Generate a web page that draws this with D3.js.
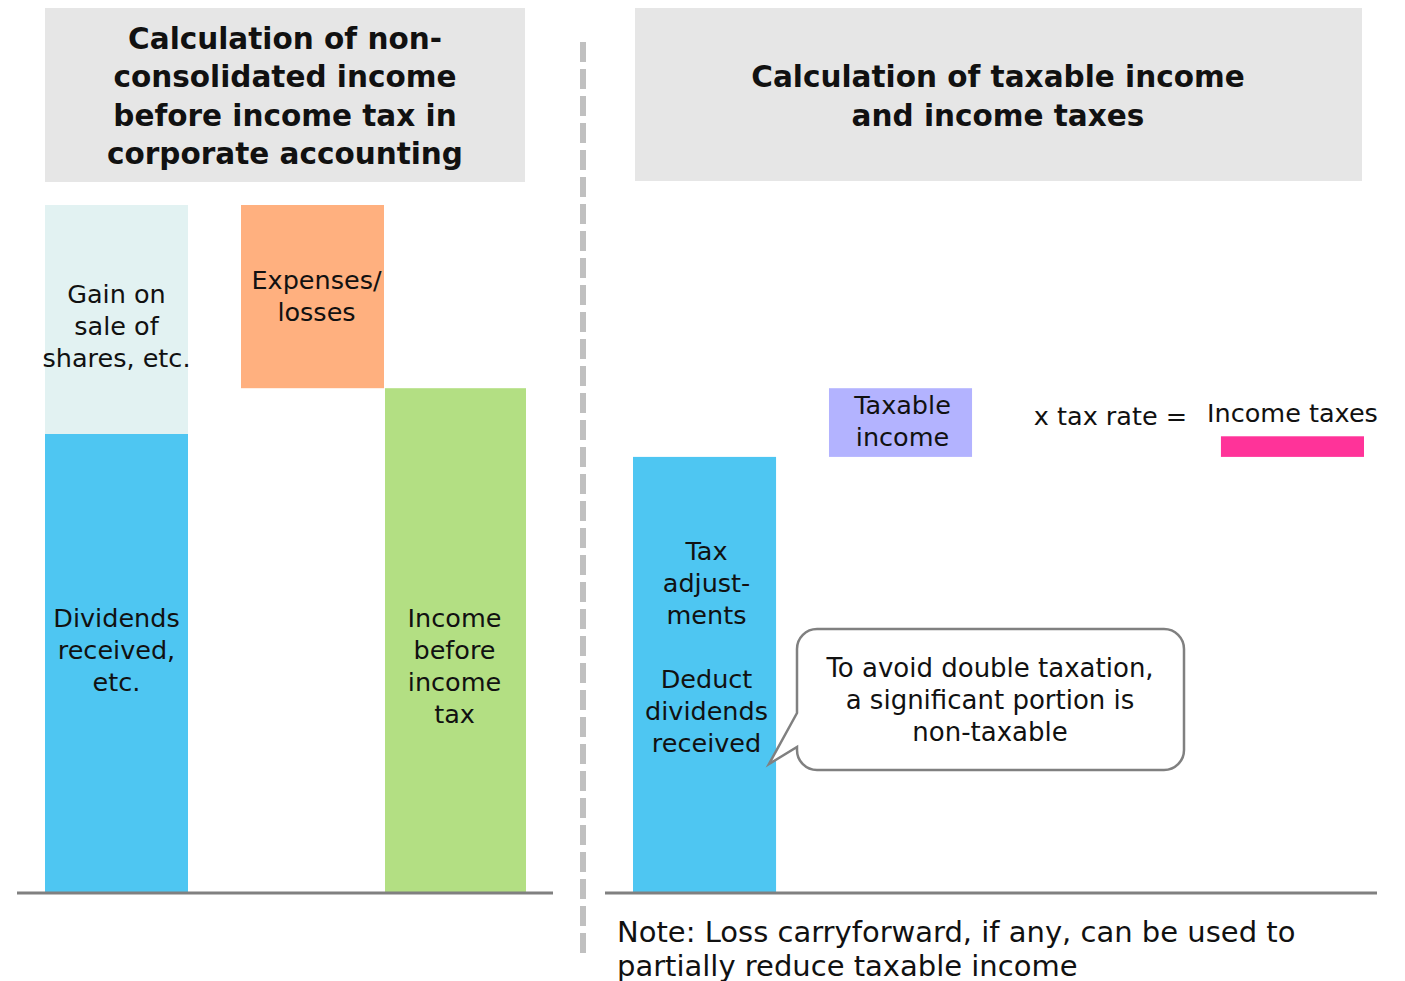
<!DOCTYPE html>
<html>
<head>
<meta charset="utf-8">
<script src="https://cdn.jsdelivr.net/npm/d3@7"></script>
<style>
  html, body { margin: 0; padding: 0; background: #fff; }
  svg text { font-family: "DejaVu Sans", Verdana, sans-serif; fill: #111; }
</style>
</head>
<body>
<svg id="chart" width="1405" height="981"></svg>
<script>
// left panel: corporate accounting (values in arbitrary units)
const leftCats = ["Dividends", "Gain", "Expenses", "Income"];
const leftStart = [0, 100, 110, 0];
const leftEnd = [100, 150, 150, 110];
const leftColors = ["#4ec6f2", "#e2f2f2", "#ffb07f", "#b3df83"];
const leftLabels = [
  ["Dividends", "received,", "etc."],
  ["Gain on", "sale of", "shares, etc."],
  ["Expenses/", "losses"],
  ["Income", "before", "income", "tax"]
];

// right panel: tax accounting
const rightCats = ["Adjustments", "Taxable", "Rate", "Taxes"];
const rightStart = [0, 95, null, 95];
const rightEnd = [95, 110, null, 99.5];
const rightColors = ["#4ec6f2", "#b3b3ff", null, "#ff3399"];
const rightLabels = [
  ["Tax", "adjust-", "ments", "", "Deduct", "dividends", "received"],
  ["Taxable", "income"],
  [],
  []
];

const leftTitle = ["Calculation of non-", "consolidated income", "before income tax in", "corporate accounting"];
const rightTitle = ["Calculation of taxable income", "and income taxes"];
const calloutText = ["To avoid double taxation,", "a significant portion is", "non-taxable"];
const noteText = ["Note: Loss carryforward, if any, can be used to", "partially reduce taxable income"];

const svg = d3.select("#chart");
const baseY = 892;
const lineH = 32;

const y = d3.scaleLinear().domain([0, 100]).range([baseY, baseY - 458]);

const xLeft = d3.scaleOrdinal(leftCats, [45, 45, 241, 385]);
const xRight = d3.scaleBand(rightCats, [633, 1364]).paddingInner(0.27).paddingOuter(0).align(0);
const bw = xRight.bandwidth();

// header boxes
svg.append("rect").attr("x", 45).attr("y", 8).attr("width", 480).attr("height", 174).attr("fill", "#e6e6e6");
svg.append("rect").attr("x", 635).attr("y", 8).attr("width", 727).attr("height", 173).attr("fill", "#e6e6e6");

function lines(g, arr, cx, cy, size, weight, lh) {
  const t = g.append("text")
    .attr("text-anchor", "middle")
    .attr("font-size", size)
    .attr("font-weight", weight || "normal");
  const top = cy - (arr.length - 1) * lh / 2;
  arr.forEach((s, i) => {
    t.append("tspan").attr("x", cx).attr("y", top + i * lh).attr("dy", "0.35em").text(s);
  });
  return t;
}

lines(svg, leftTitle, 285, 96, 29.5, "bold", 38.5);
lines(svg, rightTitle, 998, 96, 29.5, "bold", 38.5);

// divider
svg.append("line")
  .attr("x1", 583).attr("x2", 583).attr("y1", 42).attr("y2", 955)
  .attr("stroke", "#c0c0c0").attr("stroke-width", 6)
  .attr("stroke-dasharray", "20,7");

// left bars
const leftData = leftCats.map((c, i) => ({ c, s: leftStart[i], e: leftEnd[i], col: leftColors[i], lab: leftLabels[i] }));
svg.append("g").selectAll("rect").data(leftData).join("rect")
  .attr("x", d => xLeft(d.c))
  .attr("y", d => y(d.e))
  .attr("width", d => d.c === "Income" ? 141 : 143)
  .attr("height", d => y(d.s) - y(d.e))
  .attr("fill", d => d.col);

const leftLabelShift = { Dividends: -13, Gain: 7, Expenses: -1, Income: 26 };
const leftLabelDx = { Dividends: 0, Gain: 0, Expenses: 4, Income: -2 };
leftData.forEach(d => {
  const cx = xLeft(d.c) + 71.5 + leftLabelDx[d.c];
  const cy = (y(d.s) + y(d.e)) / 2 + leftLabelShift[d.c];
  lines(svg, d.lab, cx, cy, 25.5, "normal", lineH);
});

// right bars
const rightData = rightCats.map((c, i) => ({ c, s: rightStart[i], e: rightEnd[i], col: rightColors[i], lab: rightLabels[i] }))
  .filter(d => d.col);
svg.append("g").selectAll("rect").data(rightData).join("rect")
  .attr("x", d => xRight(d.c))
  .attr("y", d => y(d.e))
  .attr("width", bw)
  .attr("height", d => y(d.s) - y(d.e))
  .attr("fill", d => d.col);

const rightLabelShift = { Adjustments: -27, Taxable: -1, Taxes: 0 };
rightData.forEach(d => {
  if (!d.lab.length) return;
  const cx = xRight(d.c) + bw / 2 + 2;
  const cy = (y(d.s) + y(d.e)) / 2 + rightLabelShift[d.c];
  lines(svg, d.lab, cx, cy, 25.5, "normal", lineH);
});

// tax rate and income taxes texts
svg.append("text").attr("x", xRight("Rate") + bw / 2 + 14).attr("y", 416).attr("dy", "0.35em")
  .attr("text-anchor", "middle").attr("font-size", 25.5).text("x tax rate  =");
svg.append("text").attr("x", xRight("Taxes") + bw / 2).attr("y", 413).attr("dy", "0.35em")
  .attr("text-anchor", "middle").attr("font-size", 25.5).text("Income taxes");

// baselines
svg.append("line").attr("x1", 17).attr("x2", 553).attr("y1", baseY + 1).attr("y2", baseY + 1)
  .attr("stroke", "#808080").attr("stroke-width", 3);
svg.append("line").attr("x1", 605).attr("x2", 1377).attr("y1", baseY + 1).attr("y2", baseY + 1)
  .attr("stroke", "#808080").attr("stroke-width", 3);

// callout
const bx = 797, by = 629, bwid = 387, bh = 141, r = 20;
const tip = [769, 764];
const p = d3.path();
p.moveTo(bx + r, by);
p.lineTo(bx + bwid - r, by);
p.arcTo(bx + bwid, by, bx + bwid, by + r, r);
p.lineTo(bx + bwid, by + bh - r);
p.arcTo(bx + bwid, by + bh, bx + bwid - r, by + bh, r);
p.lineTo(bx + r, by + bh);
p.arcTo(bx, by + bh, bx, by + bh - r, r);
p.lineTo(bx, 747);
p.lineTo(tip[0], tip[1]);
p.lineTo(bx, 713);
p.lineTo(bx, by + r);
p.arcTo(bx, by, bx + r, by, r);
p.closePath();
svg.append("path").attr("d", p.toString()).attr("fill", "#fff")
  .attr("stroke", "#808080").attr("stroke-width", 2.5);
lines(svg, calloutText, 990, 700, 26, "normal", lineH);

// note
const note = svg.append("text").attr("font-size", 29);
noteText.forEach((s, i) => {
  note.append("tspan").attr("x", 617).attr("y", 932 + i * 34).attr("dy", "0.35em").text(s);
});
</script>
</body>
</html>
